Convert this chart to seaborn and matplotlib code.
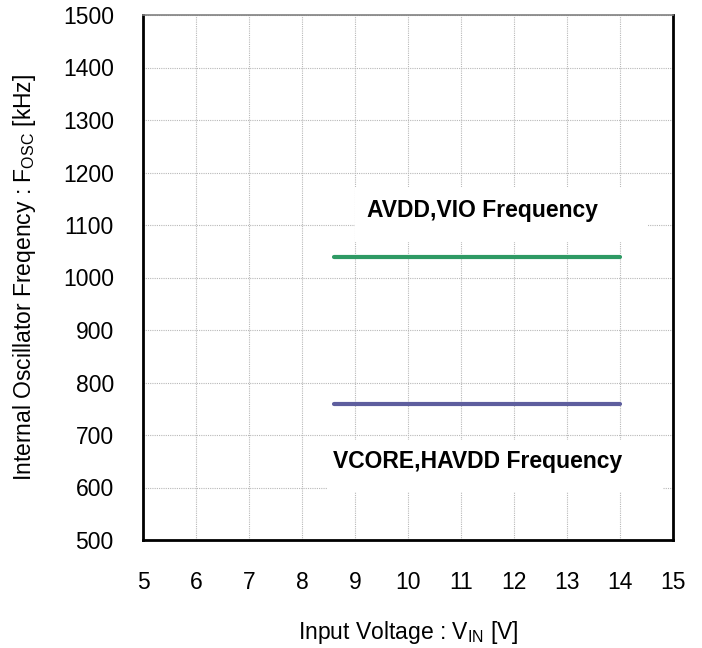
import numpy as np
import pandas as pd
import matplotlib
matplotlib.use("Agg")
import matplotlib.pyplot as plt
from matplotlib.patches import Rectangle
import seaborn as sns

# data
vin = [8.6, 14.0]
avdd_vio = [1040, 1040]
vcore_havdd = [760, 760]
x_ticks = [5, 6, 7, 8, 9, 10, 11, 12, 13, 14, 15]
y_ticks = [500, 600, 700, 800, 900, 1000, 1100, 1200, 1300, 1400, 1500]

df = pd.DataFrame({
    "VIN": vin * 2,
    "Fosc": avdd_vio + vcore_havdd,
    "Rail": ["AVDD,VIO Frequency"] * 2 + ["VCORE,HAVDD Frequency"] * 2,
})

sns.set_style("white")
plt.rcParams['font.family'] = ['Liberation Sans', 'DejaVu Sans']
plt.rcParams['mathtext.fontset'] = 'custom'
plt.rcParams['mathtext.rm'] = 'Liberation Sans'
plt.rcParams['text.color'] = 'black'
plt.rcParams['axes.labelcolor'] = 'black'

fig = plt.figure(figsize=(7.02, 6.48), dpi=100)
ax = fig.add_axes([143 / 702, 1 - 540 / 648, 530 / 702, 525 / 648])

sns.lineplot(data=df, x="VIN", y="Fosc", hue="Rail",
             palette=["#2e9a64", "#5e5e9e"], linewidth=3, legend=False, ax=ax)

ax.set_xlim(5, 15)
ax.set_ylim(500, 1500)
ax.set_xticks(x_ticks)
ax.set_yticks(y_ticks)
ax.grid(True, color="#b8b8b8", linestyle=(0, (1, 1)), linewidth=0.8)
ax.tick_params(axis="both", direction="in", length=6, width=1.5,
               labelsize=16.5, colors="black")
ax.tick_params(axis="x", pad=22)
ax.tick_params(axis="y", pad=21)

for side in ["left", "bottom", "right"]:
    ax.spines[side].set_color("black")
    ax.spines[side].set_linewidth(2)
ax.spines["top"].set_color("#808080")
ax.spines["top"].set_linewidth(1.2)

ax.set_xlabel(r"Input Voltage : V$_{\mathregular{IN}}$ [V]", fontsize=16.5, labelpad=18)
ax.set_ylabel(r"Internal Oscillator Freqency : F$_{\mathregular{OSC}}$ [kHz]",
              fontsize=16.5, labelpad=18)

# white label boxes that cut the grid
ax.add_patch(Rectangle((9.0, 1067), 5.53, 105, facecolor="white",
                       edgecolor="none", zorder=2))
ax.add_patch(Rectangle((8.47, 591), 6.34, 99, facecolor="white",
                       edgecolor="none", zorder=2))
ax.text(9.23, 1128, "AVDD,VIO Frequency", fontsize=16.5, fontweight="bold",
        ha="left", va="center", zorder=3)
ax.text(8.58, 650, "VCORE,HAVDD Frequency", fontsize=16.5, fontweight="bold",
        ha="left", va="center", zorder=3)

fig.savefig("out.png", dpi=100)
